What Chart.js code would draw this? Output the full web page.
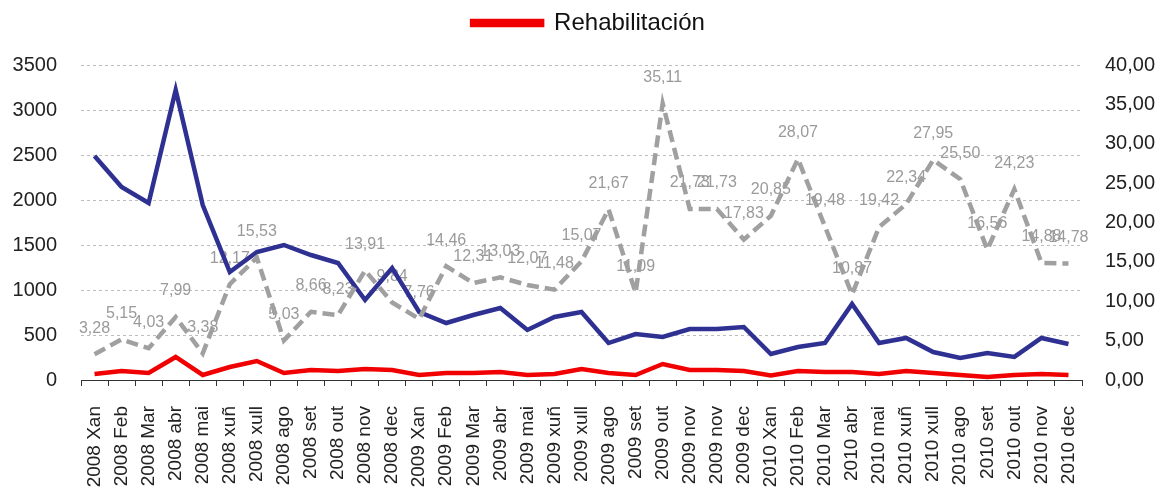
<!DOCTYPE html>
<html>
<head>
<meta charset="utf-8">
<title>Rehabilitación</title>
<script src="https://cdn.jsdelivr.net/npm/chart.js@4.4.1/dist/chart.umd.min.js"></script>
<style>
	html, body { margin: 0; padding: 0; background: #fff; }
</style>
</head>
<body>
<canvas id="lineChart" width="1161" height="488"></canvas>
<script>
var categories = [
	'2008 Xan', '2008 Feb', '2008 Mar', '2008 abr', '2008 mai', '2008 xuñ', '2008 xull', '2008 ago', '2008 set', '2008 out', '2008 nov', '2008 dec',
	'2009 Xan', '2009 Feb', '2009 Mar', '2009 abr', '2009 mai', '2009 xuñ', '2009 xull', '2009 ago', '2009 set', '2009 out', '2009 nov', '2009 nov', '2009 dec',
	'2010 Xan', '2010 Feb', '2010 Mar', '2010 abr', '2010 mai', '2010 xuñ', '2010 xull', '2010 ago', '2010 set', '2010 out', '2010 nov', '2010 dec'
];
// left axis
var rehabilitacion = [67, 100, 78, 256, 56, 144, 211, 78, 111, 100, 122, 111, 56, 78, 78, 89, 56, 67, 122, 78, 56, 178, 111, 111, 100, 50, 100, 89, 89, 67, 100, 78, 56, 33, 56, 67, 56];
var total = [2490, 2144, 1967, 3222, 1944, 1200, 1422, 1500, 1389, 1300, 889, 1244, 756, 633, 722, 800, 556, 700, 756, 411, 511, 478, 567, 567, 589, 289, 367, 411, 844, 411, 467, 311, 244, 300, 256, 467, 400];
// right axis (%)
var ratio = [3.28, 5.15, 4.03, 7.99, 3.38, 12.17, 15.53, 5.03, 8.66, 8.23, 13.91, 9.84, 7.76, 14.46, 12.31, 13.03, 12.07, 11.48, 15.07, 21.67, 11.09, 35.11, 21.73, 21.73, 17.83, 20.85, 28.07, 19.48, 10.87, 19.42, 22.34, 27.95, 25.50, 16.56, 24.23, 14.88, 14.78];

var leftTicks = [0, 500, 1000, 1500, 2000, 2500, 3000, 3500];
var rightTicks = [0, 5, 10, 15, 20, 25, 30, 35, 40];

var fontFamily = '"Liberation Sans", Arial, sans-serif';
Chart.defaults.font.family = fontFamily;

function comma(v) {
	return v.toFixed(2).replace('.', ',');
}

// grey value labels, drawn under the lines
var ratioLabels = {
	id: 'ratioLabels',
	beforeDatasetsDraw: function(chart) {
		var meta = chart.getDatasetMeta(2);
		var ctx = chart.ctx;
		ctx.save();
		ctx.font = '16px ' + fontFamily;
		ctx.fillStyle = '#9a9a9a';
		ctx.textAlign = 'center';
		ctx.textBaseline = 'middle';
		meta.data.forEach(function(pt, i) {
			ctx.fillText(comma(ratio[i]), pt.x, pt.y - 26);
		});
		ctx.restore();
	}
};

// nudge the legend a bit right, like the original
var legendShift = {
	id: 'legendShift',
	afterLayout: function(chart) {
		chart.legend.left += 8;
		chart.legend.right += 8;
	}
};

new Chart(document.getElementById('lineChart'), {
	type: 'line',
	data: {
		labels: categories,
		datasets: [{
			label: 'Rehabilitación',
			data: rehabilitacion,
			yAxisID: 'y',
			borderColor: '#f00000',
			backgroundColor: '#f00000',
			borderWidth: 4.5,
			pointRadius: 0,
			tension: 0,
			order: 1
		}, {
			label: 'Total',
			data: total,
			yAxisID: 'y',
			borderColor: '#2e3192',
			backgroundColor: '#2e3192',
			borderWidth: 4.5,
			pointRadius: 0,
			tension: 0,
			order: 2
		}, {
			label: '%',
			data: ratio,
			yAxisID: 'y1',
			borderColor: '#a0a0a0',
			backgroundColor: '#a0a0a0',
			borderWidth: 4.5,
			borderDash: [12, 6],
			pointRadius: 0,
			tension: 0,
			order: 0
		}]
	},
	options: {
		responsive: false,
		animation: false,
		layout: { padding: 0 },
		plugins: {
			legend: {
				display: true,
				position: 'top',
				labels: {
					boxWidth: 70,
					boxHeight: 4,
					padding: 11,
					color: '#111',
					font: { size: 24 },
					filter: function(item) { return item.datasetIndex === 0; }
				}
			},
			title: {
				display: true,
				text: '',
				weight: 500,
				padding: 0,
				font: { size: 20, lineHeight: 1 }
			},
			tooltip: { enabled: false }
		},
		scales: {
			x: {
				offset: true,
				grid: {
					display: true,
					drawOnChartArea: false,
					drawTicks: true,
					tickLength: 6,
					offset: true,
					color: '#333'
				},
				border: { display: true, color: '#333', width: 1 },
				ticks: {
					autoSkip: false,
					minRotation: 90,
					maxRotation: 90,
					padding: 20,
					color: '#222',
					font: { size: 19 }
				},
				afterFit: function(scale) { scale.height = 108; }
			},
			y: {
				position: 'left',
				min: 0,
				max: 3500,
				afterBuildTicks: function(scale) {
					scale.ticks = leftTicks.map(function(v) { return { value: v }; });
				},
				grid: {
					drawTicks: false,
					lineWidth: 1,
					color: function(c) { return c.tick && c.tick.value === 0 ? 'rgba(0,0,0,0)' : '#bdbdbd'; }
				},
				border: { display: false, dash: [3, 3] },
				ticks: {
					padding: 24,
					color: '#222',
					font: { size: 20 },
					callback: function(v) { return String(v); }
				},
				afterFit: function(scale) { scale.width = 81; }
			},
			y1: {
				position: 'right',
				min: 0,
				max: 40,
				afterBuildTicks: function(scale) {
					scale.ticks = rightTicks.map(function(v) { return { value: v }; });
				},
				grid: { display: false, drawTicks: false },
				border: { display: false },
				ticks: {
					padding: 23,
					color: '#222',
					font: { size: 20 },
					callback: function(v) { return comma(v); }
				},
				afterFit: function(scale) { scale.width = 79; }
			}
		}
	},
	plugins: [ratioLabels, legendShift]
});
</script>
</body>
</html>
